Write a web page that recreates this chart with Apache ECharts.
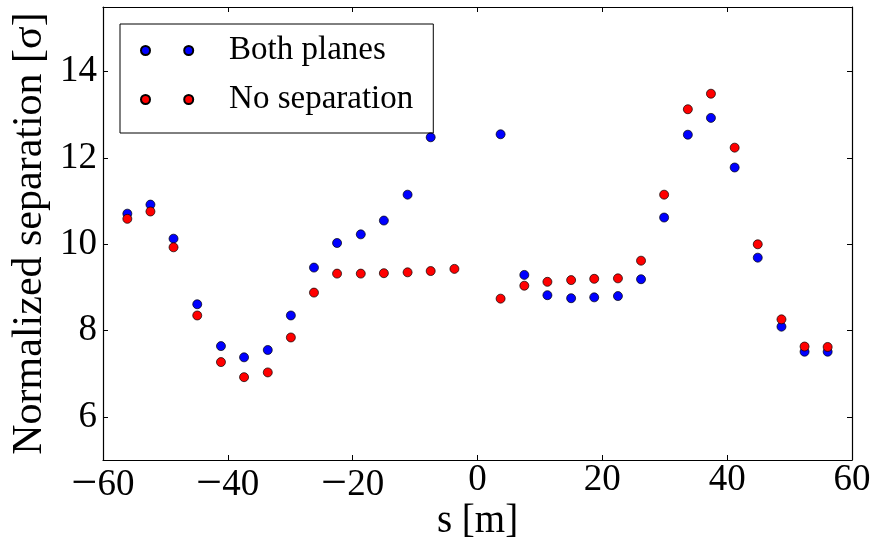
<!DOCTYPE html>
<html>
<head>
<meta charset="utf-8">
<script src="https://cdn.jsdelivr.net/npm/echarts@6/dist/echarts.min.js"></script>
<style>
html, body { margin: 0; padding: 0; background: #fff; }
#chart { width: 876px; height: 540px; }
</style>
</head>
<body>
<div id="chart"></div>
<script>
// positions along the ring, metres
var sBoth = [-56.1, -52.4, -48.7, -44.9, -41.1, -37.4, -33.6, -29.9, -26.2, -22.5, -18.7, -15.0, -11.2, -7.5,
	3.7, 7.5, 11.2, 15.0, 18.7, 22.5, 26.2, 29.9, 33.7, 37.4, 41.2, 44.9, 48.7, 52.4, 56.1];
var bothPlanes = [10.71, 10.92, 10.13, 8.61, 7.64, 7.38, 7.55, 8.35, 9.46, 10.03, 10.23, 10.55, 11.15, 12.48,
	12.55, 9.29, 8.82, 8.75, 8.77, 8.80, 9.19, 10.62, 12.54, 12.93, 11.78, 9.69, 8.09, 7.51, 7.51];

var sNoSep = [-56.1, -52.4, -48.7, -44.9, -41.1, -37.4, -33.6, -29.9, -26.2, -22.5, -18.7, -15.0, -11.2, -7.5, -3.7,
	3.7, 7.5, 11.2, 15.0, 18.7, 22.5, 26.2, 29.9, 33.7, 37.4, 41.2, 44.9, 48.7, 52.4, 56.1];
var noSeparation = [10.59, 10.76, 9.93, 8.35, 7.27, 6.92, 7.03, 7.84, 8.88, 9.32, 9.32, 9.33, 9.35, 9.38, 9.43,
	8.74, 9.04, 9.13, 9.17, 9.20, 9.21, 9.62, 11.15, 13.13, 13.49, 12.24, 10.00, 8.26, 7.63, 7.62];

var xTicks = [-60, -40, -20, 0, 20, 40, 60];
var yTicks = [6, 8, 10, 12, 14];

function pairs(xs, ys) {
	var out = [];
	for (var i = 0; i < xs.length; i++) {
		out.push([xs[i], ys[i]]);
	}
	return out;
}

var font = 'Liberation Serif';
// two dots per legend entry, like matplotlib numpoints=2
var twoDots = 'path://M0,5a5,5 0 1,0 10,0a5,5 0 1,0 -10,0M48,5a5,5 0 1,0 10,0a5,5 0 1,0 -10,0';

var myChart = echarts.init(document.getElementById('chart'));

var lineStyle = { show: true, onZero: false, lineStyle: { color: '#000', width: 1.2 } };
var xTick = { show: true, inside: true, length: 5, lineStyle: { color: '#000', width: 1 } };
var yTick = { show: true, inside: true, length: 5, lineStyle: { color: '#000', width: 1 }, customValues: yTicks };

var option = {
	backgroundColor: '#fff',
	animation: false,
	grid: {
		left: 103,
		right: 24,
		top: 7,
		bottom: 80,
		containLabel: false,
		outerBoundsMode: 'none'
	},
	legend: {
		left: 120,
		top: 24,
		orient: 'vertical',
		borderColor: '#000',
		borderWidth: 1,
		padding: [10, 20, 17, 20],
		itemGap: 16,
		itemWidth: 56,
		itemHeight: 9,
		icon: twoDots,
		textStyle: {
			fontFamily: font,
			fontSize: 33,
			color: '#000',
			padding: [0, 0, 0, 29]
		},
		data: ['Both planes', 'No separation']
	},
	xAxis: [{
		type: 'value',
		min: -60,
		max: 60,
		interval: 20,
		name: 's [m]',
		nameLocation: 'middle',
		nameGap: 42,
		nameMoveOverlap: false,
		nameTextStyle: { fontFamily: font, fontSize: 39, color: '#000', verticalAlign: 'top' },
		axisLine: lineStyle,
		axisTick: xTick,
		splitLine: { show: false },
		axisLabel: {
			margin: 2,
			fontFamily: font,
			fontSize: 37,
			color: '#000',
			customValues: xTicks,
			formatter: function (v) {
				return v < 0 ? '{m|\u2212}' + String(-v) : String(v);
			},
			rich: {
				m: { fontFamily: font, fontSize: 46, color: '#000' }
			}
		}
	}, {
		type: 'value',
		position: 'top',
		min: -60,
		max: 60,
		interval: 20,
		axisLine: lineStyle,
		axisTick: xTick,
		axisLabel: { show: false },
		splitLine: { show: false }
	}],
	yAxis: [{
		type: 'value',
		min: 5,
		max: 15.5,
		name: 'Normalized separation [\u03c3]',
		nameLocation: 'middle',
		nameGap: 52,
		nameMoveOverlap: false,
		nameTextStyle: { fontFamily: font, fontSize: 42, color: '#000' },
		axisLine: lineStyle,
		axisTick: yTick,
		splitLine: { show: false },
		axisLabel: {
			margin: 6,
			fontFamily: font,
			fontSize: 37,
			color: '#000',
			customValues: yTicks
		}
	}, {
		type: 'value',
		position: 'right',
		min: 5,
		max: 15.5,
		axisLine: lineStyle,
		axisTick: yTick,
		axisLabel: { show: false },
		splitLine: { show: false }
	}],
	series: [{
		name: 'Both planes',
		type: 'scatter',
		xAxisIndex: 0,
		yAxisIndex: 0,
		symbol: 'circle',
		symbolSize: 9,
		itemStyle: { color: '#0000ff', borderColor: '#000', borderWidth: 0.7, opacity: 1 },
		data: pairs(sBoth, bothPlanes)
	}, {
		name: 'No separation',
		type: 'scatter',
		xAxisIndex: 0,
		yAxisIndex: 0,
		symbol: 'circle',
		symbolSize: 9,
		itemStyle: { color: '#ff0000', borderColor: '#000', borderWidth: 0.7, opacity: 1 },
		data: pairs(sNoSep, noSeparation)
	}]
};

myChart.setOption(option);
</script>
</body>
</html>
